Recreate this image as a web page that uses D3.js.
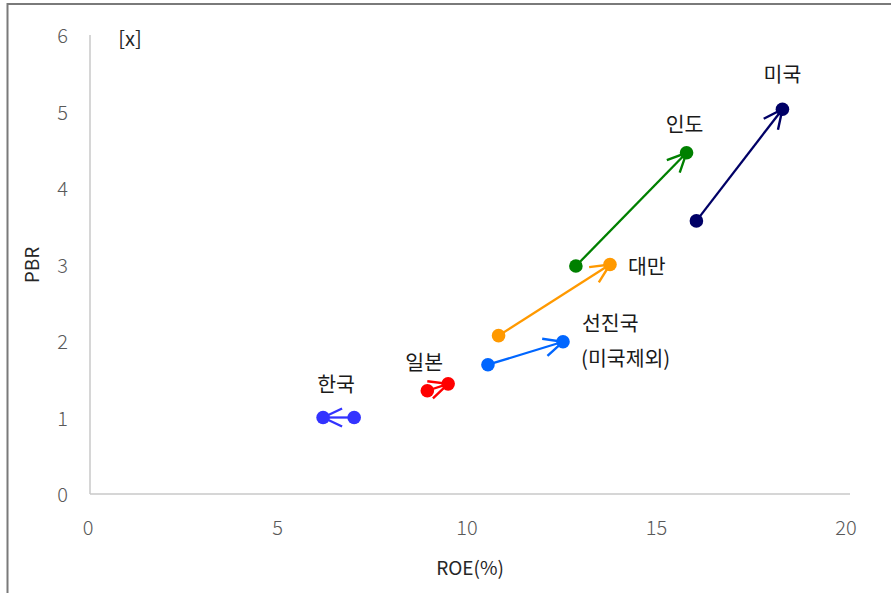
<!DOCTYPE html>
<html>
<head>
<meta charset="utf-8">
<script src="https://cdn.jsdelivr.net/npm/d3@7"></script>
<style>
  body { margin: 0; background: #fff; }
  svg { display: block; }
  .tick-label { font-family: "Noto Sans CJK KR", "Noto Sans", sans-serif; font-size: 20px; font-weight: 300; fill: #595959; }
  .axis-title { font-family: "Noto Sans CJK KR", "Noto Sans", sans-serif; font-size: 19px; fill: #262626; }
  .country { font-family: "Noto Sans CJK KR", sans-serif; font-size: 20.5px; fill: #1a1a1a; }
</style>
</head>
<body>
<div id="chart"></div>
<script>
// data: each country moves from (roe_from, pbr_from) to (roe_to, pbr_to)
const countries = ["한국", "일본", "선진국", "대만", "인도", "미국"];
const roe_from = [6.97, 8.9, 10.5, 10.78, 12.82, 16.0];
const pbr_from = [1.0, 1.35, 1.69, 2.07, 2.98, 3.57];
const roe_to = [6.15, 9.45, 12.48, 13.72, 15.74, 18.27];
const pbr_to = [1.0, 1.44, 1.99, 3.0, 4.46, 5.03];
const x_ticks = [0, 5, 10, 15, 20];
const y_ticks = [0, 1, 2, 3, 4, 5, 6];

// styling
const colors = ["#3333ff", "#ff0000", "#0066ff", "#ff9900", "#008000", "#000066"];
// label placement relative to the end point: [dx, dy, anchor, extra line]
const label_pos = {
    "한국": [13, -26, "middle"],
    "일본": [-24, -14, "middle"],
    "선진국": [19, -11, "start", "(미국제외)"],
    "대만": [18, 9, "start"],
    "인도": [-2, -21, "middle"],
    "미국": [0, -27, "middle"],
};

const width = 891, height = 593;
const margin = { left: 90, right: 43, top: 35, bottom: 99 };

const svg = d3.select("#chart").append("svg")
    .attr("width", width)
    .attr("height", height);

// outer frame (runs off the right and bottom edge like the reference)
svg.append("rect")
    .attr("x", 7.5).attr("y", 4)
    .attr("width", 920).attr("height", 620)
    .attr("fill", "none")
    .attr("stroke", "#7a7a7a")
    .attr("stroke-width", 2);

const x = d3.scaleLinear().domain([0, 20]).range([margin.left, width - margin.right]);
const y = d3.scaleLinear().domain([0, 6]).range([height - margin.bottom, margin.top]);

// axis lines
svg.append("line")
    .attr("x1", x(0)).attr("x2", x(20) + 2)
    .attr("y1", y(0)).attr("y2", y(0))
    .attr("stroke", "#c8c8c8").attr("stroke-width", 1.5);
svg.append("line")
    .attr("x1", x(0)).attr("x2", x(0))
    .attr("y1", y(0)).attr("y2", y(6))
    .attr("stroke", "#c8c8c8").attr("stroke-width", 1.5);

svg.selectAll(".xt").data(x_ticks).join("text")
    .attr("class", "tick-label")
    .attr("x", (d) => x(d) - 2)
    .attr("y", y(0) + 41)
    .attr("text-anchor", "middle")
    .text((d) => d);

svg.selectAll(".yt").data(y_ticks).join("text")
    .attr("class", "tick-label")
    .attr("x", x(0) - 22)
    .attr("y", (d) => y(d) + 8)
    .attr("text-anchor", "end")
    .text((d) => d);

svg.append("text").attr("class", "axis-title")
    .attr("x", 470).attr("y", 575)
    .attr("text-anchor", "middle")
    .text("ROE(%)");

svg.append("text").attr("class", "axis-title")
    .attr("transform", "translate(39,265) rotate(-90)")
    .attr("text-anchor", "middle")
    .text("PBR");

svg.append("text").attr("class", "axis-title")
    .attr("x", 130).attr("y", 46)
    .attr("text-anchor", "middle")
    .style("font-size", "20px")
    .text("[x]");

// open arrow heads, one per colour
const defs = svg.append("defs");
colors.forEach((c, i) => {
    defs.append("marker")
        .attr("id", "arr" + i)
        .attr("markerUnits", "userSpaceOnUse")
        .attr("viewBox", "0 0 24 24")
        .attr("markerWidth", 24).attr("markerHeight", 24)
        .attr("refX", 22).attr("refY", 12)
        .attr("orient", "auto")
        .append("path")
        .attr("d", "M3,3 L22,12 L3,21")
        .attr("fill", "none")
        .attr("stroke", c)
        .attr("stroke-width", 2.4);
});

const rows = countries.map((name, i) => ({
    name: name,
    x0: roe_from[i], y0: pbr_from[i],
    x1: roe_to[i], y1: pbr_to[i],
    color: colors[i], i: i,
}));

svg.selectAll(".move").data(rows).join("line")
    .attr("x1", (d) => x(d.x0)).attr("y1", (d) => y(d.y0))
    .attr("x2", (d) => x(d.x1)).attr("y2", (d) => y(d.y1))
    .attr("stroke", (d) => d.color)
    .attr("stroke-width", 2.3)
    .attr("marker-end", (d) => `url(#arr${d.i})`);

svg.selectAll(".start").data(rows).join("circle")
    .attr("cx", (d) => x(d.x0)).attr("cy", (d) => y(d.y0))
    .attr("r", 6.8).attr("fill", (d) => d.color);

svg.selectAll(".end").data(rows).join("circle")
    .attr("cx", (d) => x(d.x1)).attr("cy", (d) => y(d.y1))
    .attr("r", 6.8).attr("fill", (d) => d.color);

const labels = svg.selectAll(".country").data(rows).join("text")
    .attr("class", "country")
    .attr("text-anchor", (d) => label_pos[d.name][2])
    .attr("x", (d) => x(d.x1) + label_pos[d.name][0])
    .attr("y", (d) => y(d.y1) + label_pos[d.name][1]);

labels.append("tspan").text((d) => d.name);
labels.filter((d) => label_pos[d.name][3])
    .append("tspan")
    .attr("x", (d) => x(d.x1) + label_pos[d.name][0] - 1)
    .attr("dy", 35)
    .text((d) => label_pos[d.name][3]);
</script>
</body>
</html>
